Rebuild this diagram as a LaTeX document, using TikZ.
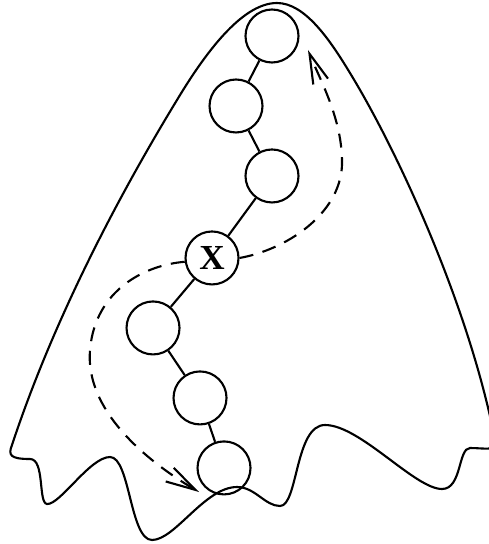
\documentclass[tikz,border=0pt]{standalone}
\usepackage{fontspec}
\setmainfont{Liberation Serif}
\usetikzlibrary{arrows.meta}

\begin{document}
\begin{tikzpicture}[
    x=0.02cm, y=-0.02cm,
    node distance=1.4cm,
    line width=1.2pt,
    bead/.style={circle, draw, minimum size=1.06cm, inner sep=0pt,
                 font=\bfseries\fontsize{20}{24}\selectfont},
    detour/.style={dash pattern=on 8pt off 5.5pt,
                   -{Straight Barb[length=17pt, width=9pt]}}
]
\useasboundingbox (0,0) rectangle (488,544);
\draw (12,445) .. controls (50,330) and (110,210) .. (177,100)
    .. controls (210,45) and (245,3) .. (277,3)
    .. controls (305,3) and (330,40) .. (350,73)
    .. controls (400,155) and (470,310) .. (495,440)
    .. controls (499,452) and (485,448) .. (470,448)
    .. controls (458,448) and (462,489) .. (442,489)
    .. controls (415,489) and (360,425) .. (325,425)
    .. controls (295,425) and (298,506) .. (280,506)
    .. controls (265,506) and (255,487) .. (237,487)
    .. controls (205,487) and (175,540) .. (152,540)
    .. controls (130,540) and (130,457) .. (110,457)
    .. controls (90,457) and (60,505) .. (47,504)
    .. controls (38,503) and (45,459) .. (30,459)
    .. controls (10,459) and (8,455) .. cycle;
\node[bead] (top) at (272,36) {};
\node[bead, below of=top, xshift=-0.72cm] (b2) {};
\node[bead, below of=b2, xshift=0.72cm] (b3) {};
\node[bead, below of=b3, xshift=-1.2cm, yshift=-0.24cm] (x) {X};
\node[bead, below of=x, xshift=-1.18cm] (b5) {};
\node[bead, below of=b5, xshift=0.94cm] (b6) {};
\node[bead, below of=b6, xshift=0.48cm] (bot) {};
\coordinate (lowtip) at (199,492);
\coordinate (hightip) at (308,50);
\draw (top) -- (b2);
\draw (b2) -- (b3);
\draw (b3) -- (x);
\draw (x) -- (b5);
\draw (b5) -- (b6);
\draw (b6) -- (bot);
\draw[detour] (x.188) .. controls (145,265) and (95,290) .. (90,350)
    .. controls (85,410) and (145,460) .. (lowtip);
\draw[detour] (x.east) .. controls (285,250) and (340,215) .. (342,165)
    .. controls (343,120) and (320,80) .. (hightip);
\end{tikzpicture}
\end{document}
